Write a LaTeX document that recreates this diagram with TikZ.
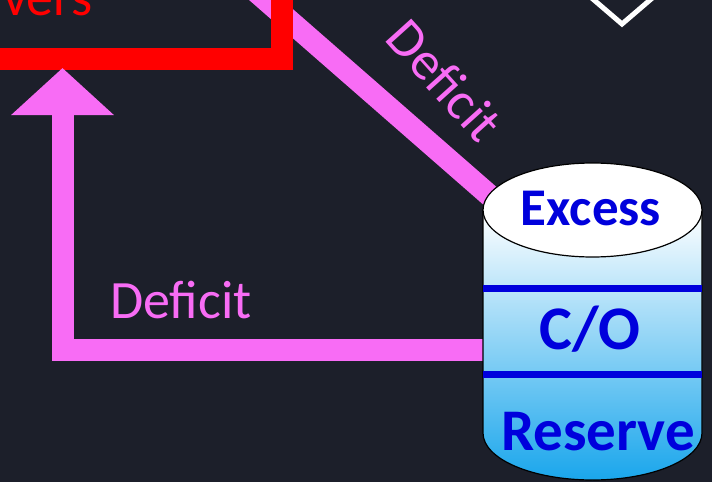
\documentclass[tikz,border=0pt]{standalone}
\usepackage{fontspec}
\setmainfont{Carlito}
\usetikzlibrary{arrows.meta}
\definecolor{bg}{RGB}{28,31,42}
\definecolor{pinkflow}{RGB}{248,108,245}
\definecolor{inkblue}{RGB}{0,0,220}
\definecolor{tankmid}{RGB}{180,220,244}
\definecolor{tankbot}{RGB}{26,166,236}

\begin{document}
\begin{tikzpicture}[x=1pt,y=-1pt,
    flow/.style={draw=pinkflow,line width=22pt},
    tanktext/.style={text=inkblue,inner sep=0pt,anchor=base},
    deftext/.style={text=pinkflow,inner sep=0pt,font=\fontsize{54}{60}\selectfont}]
    \fill[bg] (0,0) rectangle (712,482);
    \useasboundingbox (0,0) rectangle (712,482);
    \clip (0,0) rectangle (712,482);
    % outline shape at the top right
    \draw[white,line width=5pt] (622,24) -- (692,-36) -- (622,-96) -- (552,-36) -- cycle;
    % deficit into the box
    \coordinate (drvTop) at (220,-40);
    \coordinate (excIn) at (497,202);
    \draw[flow] (drvTop) -- (excIn);
    \node[deftext,rotate=-48] (defdiag) at (445,80) {Deficit};
    % the red box
    \draw[red,line width=22pt] (-60,-60) rectangle (282,58.5);
    \node[text=red,inner sep=0pt,anchor=base east,font=\fontsize{54}{60}\selectfont] (drvlabel) at (93,15) {vers};
    % deficit back up
    \coordinate (cylW) at (485,350);
    \coordinate (drvTip) at (62.5,68);
    \draw[flow,-{Triangle[width=100pt,length=47pt]}] (cylW) -| (drvTip);
    \node[deftext,anchor=base] (defleft) at (181,318) {Deficit};
    % the tank
    \shade[top color=white,middle color=tankmid,bottom color=tankbot,draw=black,line width=1.2pt]
        (483,210) -- (483,433) arc[start angle=180,end angle=0,x radius=109.5,y radius=47] -- (702,210) -- cycle;
    \draw[fill=white,line width=1.2pt] (592.5,210) ellipse[x radius=109.5,y radius=47];
    \foreach \y in {288,374}{
        \draw[inkblue,line width=7pt] (483,\y) -- (702,\y);
    }
    \node[tanktext,font=\bfseries\fontsize{53}{60}\selectfont] (excess) at (591,225) {Excess};
    \node[tanktext,font=\bfseries\fontsize{62}{70}\selectfont] (carry) at (590,349) {C/O};
    \node[tanktext,font=\bfseries\fontsize{59}{70}\selectfont] (reserve) at (598,450) {Reserve};
\end{tikzpicture}
\end{document}
